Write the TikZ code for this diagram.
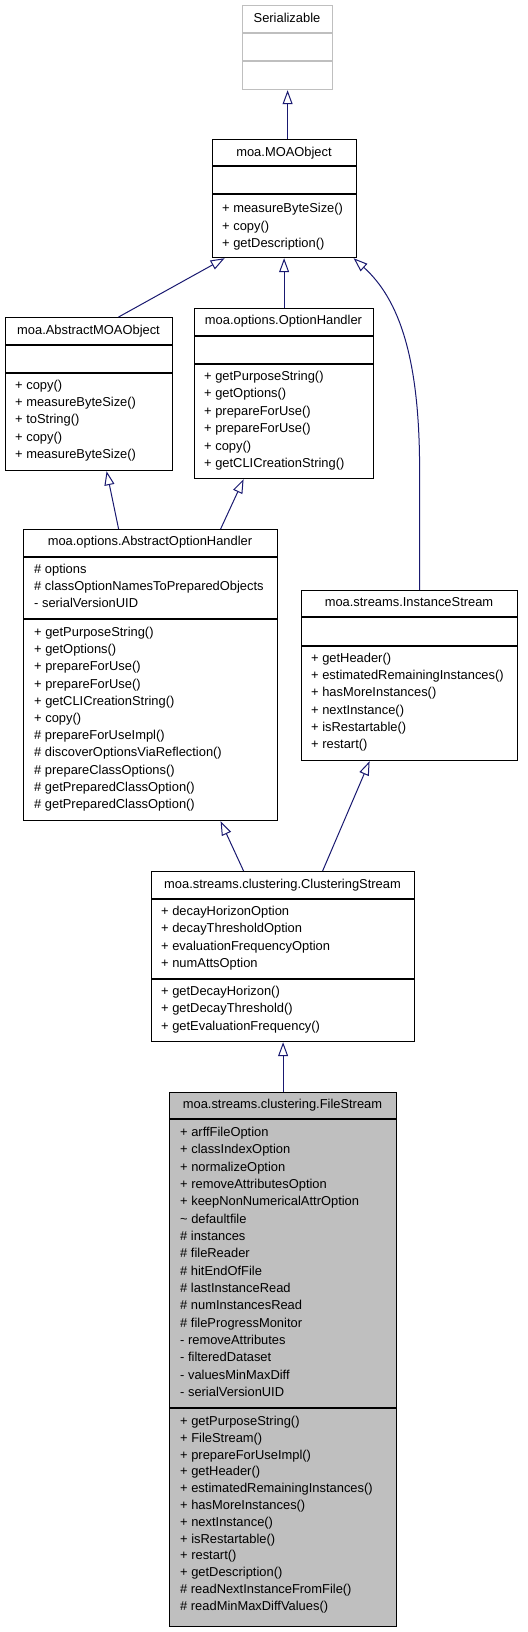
\documentclass[tikz,border=0pt]{standalone}
\usepackage{fontspec}
\setmainfont{Liberation Sans}
\usetikzlibrary{arrows.meta}
\definecolor{edgeblue}{HTML}{191970}
\definecolor{boxgray}{HTML}{BFBFBF}

\begin{document}
\begin{tikzpicture}[x=1bp,y=-1bp]
        \tikzset{
            classbox/.style={draw=black,line width=1.2bp,anchor=north west,inner sep=0pt},
            title/.style={font=\fontsize{12.9bp}{14bp}\selectfont,inner sep=0pt,text height=9.5bp,text depth=2.5bp},
            member/.style={title,anchor=west},
            inherit/.style={draw=edgeblue,line width=1bp,-{Triangle[open,length=14bp,width=10bp]}}
        }
        \useasboundingbox (0,0) rectangle (528,1632);

        % Serializable
        \node[classbox,draw=boxgray,minimum width=90bp,minimum height=84bp] (ser) at (242,5) {};
        \draw[boxgray,line width=1.2bp] (242,33) -- (332,33) (242,61) -- (332,61);
        \node[title] (ser-t) at (287,19) {Serializable};

        % moa.MOAObject
        \node[classbox,minimum width=144bp,minimum height=118bp] (mo) at (212,139) {};
        \draw[line width=1.2bp] (212,166) -- (356,166) (212,194) -- (356,194);
        \node[title] (mo-t) at (284,152.5) {moa.MOAObject};
        \foreach \t [count=\i] in {+ measureByteSize(),+ copy(),+ getDescription()}{
                \node[member] (mo-m\i) at (222,{209+(\i-1)*17.5}) {\t};
            }

        % moa.AbstractMOAObject
        \node[classbox,minimum width=167bp,minimum height=153bp] (amo) at (5,317) {};
        \draw[line width=1.2bp] (5,345) -- (172,345) (5,373) -- (172,373);
        \node[title] (amo-t) at (88.5,331) {moa.AbstractMOAObject};
        \foreach \t [count=\i] in {+ copy(),+ measureByteSize(),+ toString(),+ copy(),+ measureByteSize()}{
                \node[member] (amo-m\i) at (15,{386+(\i-1)*17.2}) {\t};
            }

        % moa.options.OptionHandler
        \node[classbox,minimum width=179bp,minimum height=170bp] (oh) at (194,308) {};
        \draw[line width=1.2bp] (194,336) -- (373,336) (194,364) -- (373,364);
        \node[title] (oh-t) at (283.5,321) {moa.options.OptionHandler};
        \foreach \t [count=\i] in {+ getPurposeString(),+ getOptions(),+ prepareForUse(),+ prepareForUse(),+ copy(),+ getCLICreationString()}{
                \node[member] (oh-m\i) at (204,{377+(\i-1)*17.4}) {\t};
            }

        % moa.options.AbstractOptionHandler
        \node[classbox,minimum width=254bp,minimum height=291bp] (aoh) at (23,529) {};
        \draw[line width=1.2bp] (23,557) -- (277,557) (23,619) -- (277,619);
        \node[title] (aoh-t) at (150,542) {moa.options.AbstractOptionHandler};
        \foreach \t [count=\i] in {\# options,\# classOptionNamesToPreparedObjects,- serialVersionUID}{
                \node[member] (aoh-a\i) at (34,{570+(\i-1)*17}) {\t};
            }
        \foreach \t [count=\i] in {+ getPurposeString(),+ getOptions(),+ prepareForUse(),+ prepareForUse(),
                + getCLICreationString(),+ copy(),\# prepareForUseImpl(),\# discoverOptionsViaReflection(),
                \# prepareClassOptions(),\# getPreparedClassOption(),\# getPreparedClassOption()}{
                \node[member] (aoh-m\i) at (34,{633+(\i-1)*17.2}) {\t};
            }

        % moa.streams.InstanceStream
        \node[classbox,minimum width=216bp,minimum height=170bp] (is) at (301,590) {};
        \draw[line width=1.2bp] (301,617) -- (517,617) (301,646) -- (517,646);
        \node[title] (is-t) at (409,603) {moa.streams.InstanceStream};
        \foreach \t [count=\i] in {+ getHeader(),+ estimatedRemainingInstances(),+ hasMoreInstances(),
                + nextInstance(),+ isRestartable(),+ restart()}{
                \node[member] (is-m\i) at (311,{659+(\i-1)*17.2}) {\t};
            }

        % moa.streams.clustering.ClusteringStream
        \node[classbox,minimum width=263bp,minimum height=170bp] (cs) at (151,871) {};
        \draw[line width=1.2bp] (151,899) -- (414,899) (151,979) -- (414,979);
        \node[title] (cs-t) at (282.5,885) {moa.streams.clustering.ClusteringStream};
        \foreach \t [count=\i] in {+ decayHorizonOption,+ decayThresholdOption,+ evaluationFrequencyOption,+ numAttsOption}{
                \node[member] (cs-a\i) at (161,{912+(\i-1)*17.3}) {\t};
            }
        \foreach \t [count=\i] in {+ getDecayHorizon(),+ getDecayThreshold(),+ getEvaluationFrequency()}{
                \node[member] (cs-m\i) at (161,{992+(\i-1)*17.4}) {\t};
            }

        % moa.streams.clustering.FileStream
        \node[classbox,fill=boxgray,minimum width=227bp,minimum height=534bp] (fs) at (169,1092) {};
        \draw[line width=1.2bp] (169,1119) -- (396,1119) (169,1408) -- (396,1408);
        \node[title] (fs-t) at (282.5,1105) {moa.streams.clustering.FileStream};
        \foreach \t [count=\i] in {+ arffFileOption,+ classIndexOption,+ normalizeOption,+ removeAttributesOption,
                + keepNonNumericalAttrOption,\textasciitilde{} defaultfile,\# instances,\# fileReader,\# hitEndOfFile,
                \# lastInstanceRead,\# numInstancesRead,\# fileProgressMonitor,- removeAttributes,
                - filteredDataset,- valuesMinMaxDiff,- serialVersionUID}{
                \node[member] (fs-a\i) at (180,{1133+(\i-1)*17.33}) {\t};
            }
        \foreach \t [count=\i] in {+ getPurposeString(),+ FileStream(),+ prepareForUseImpl(),+ getHeader(),
                + estimatedRemainingInstances(),+ hasMoreInstances(),+ nextInstance(),+ isRestartable(),
                + restart(),+ getDescription(),\# readNextInstanceFromFile(),\# readMinMaxDiffValues()}{
                \node[member] (fs-m\i) at (180,{1422+(\i-1)*16.8}) {\t};
            }

        % inheritance
        \draw[inherit] (mo.north -| ser.south) -- (ser.south);
        \draw[inherit] ([xshift=29.5bp]amo.north) -- ([xshift=-60bp]mo.south);
        \draw[inherit] (oh.north) -- (oh.north |- mo.south);
        \draw[inherit] ([xshift=10bp]is.north) -- ++(0,-120) .. controls ++(0,-110) and (400,300) .. ([xshift=69bp]mo.south);
        \draw[inherit] ([xshift=-32bp]aoh.north) -- ([xshift=17.5bp]amo.south);
        \draw[inherit] ([xshift=70bp]aoh.north) -- ([xshift=-40.5bp]oh.south);
        \draw[inherit] ([xshift=-39.5bp]cs.north) -- ([xshift=70bp]aoh.south);
        \draw[inherit] ([xshift=39.5bp]cs.north) -- ([xshift=-40bp]is.south);
        \draw[inherit] (fs.north) -- (fs.north |- cs.south);

    \end{tikzpicture}
\end{document}
